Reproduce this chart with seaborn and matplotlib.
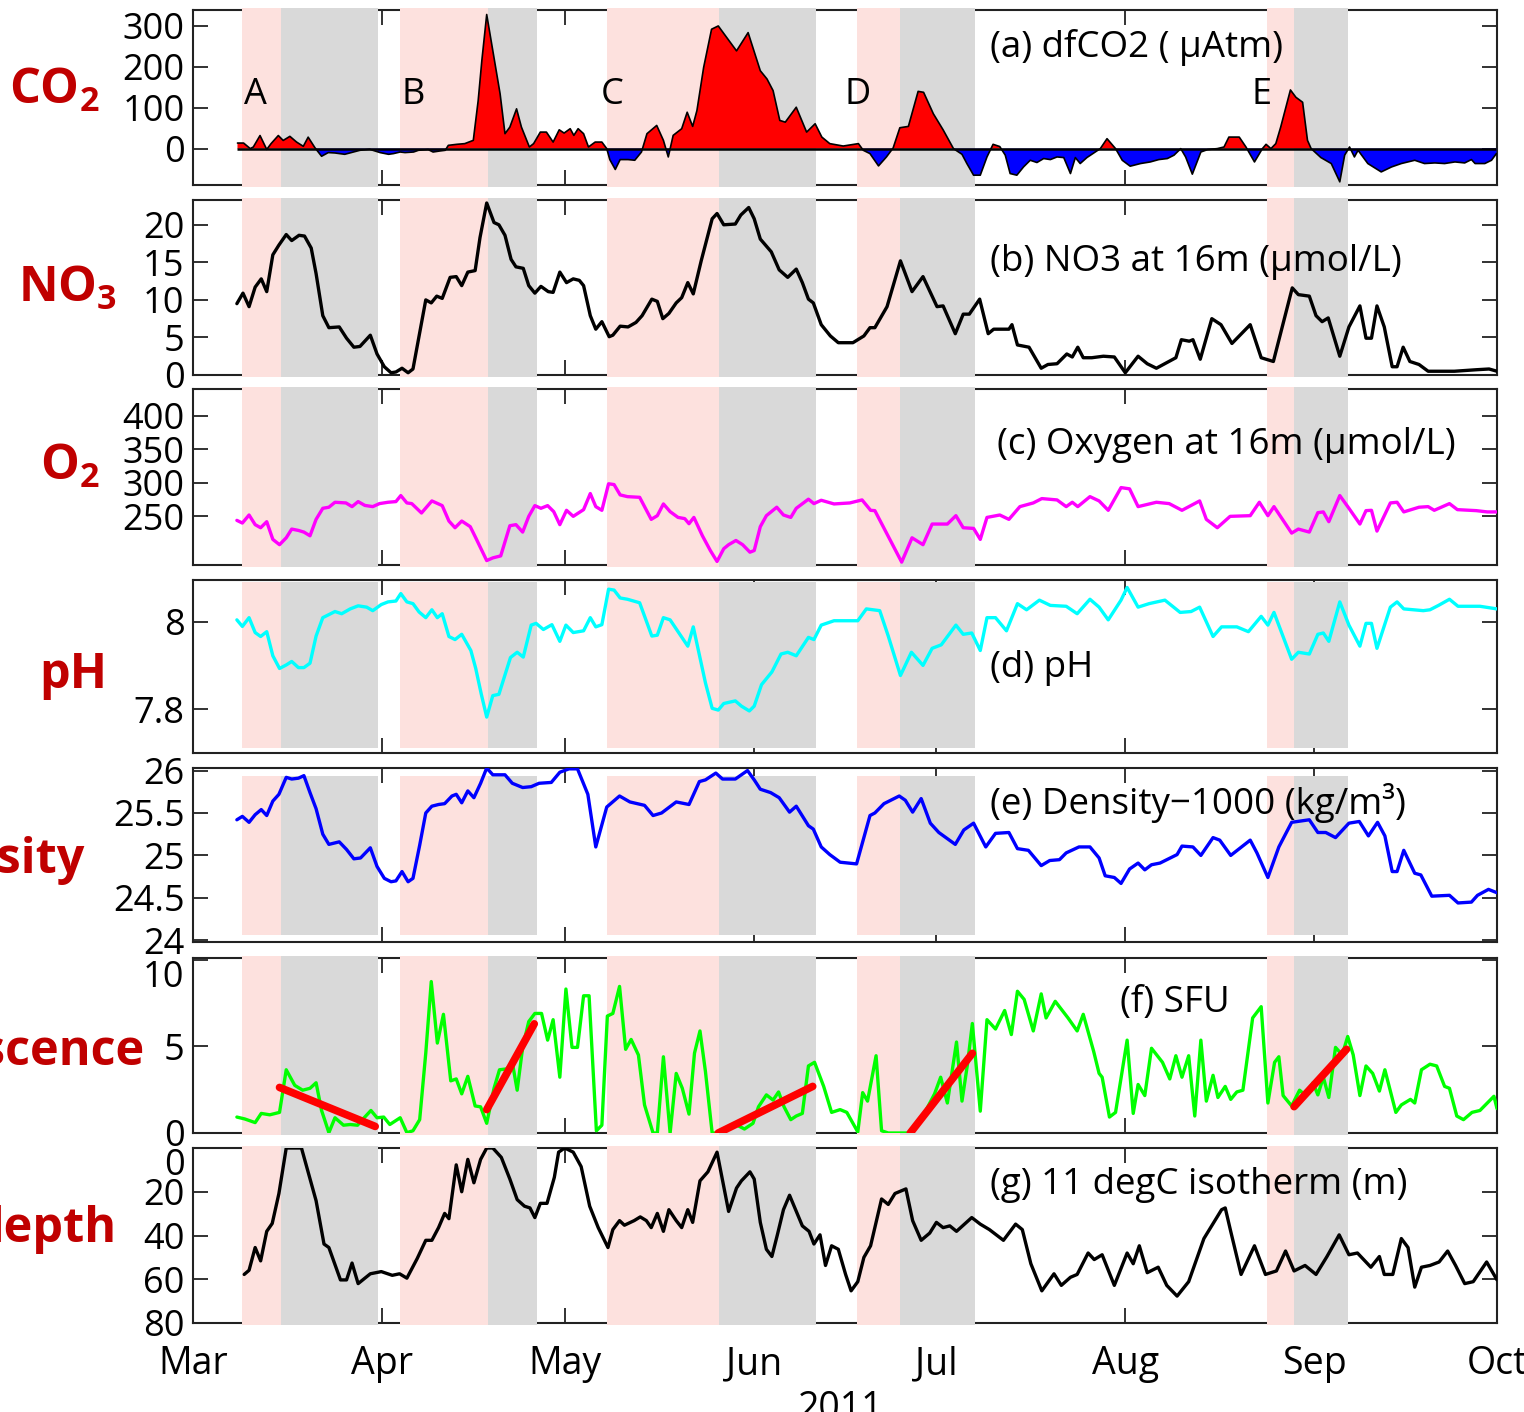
import numpy as np
import matplotlib
matplotlib.use("Agg")
import matplotlib.pyplot as plt
import seaborn as sns

# ---------------- data (days since 1 March 2011) ----------------
month_day = [0, 31, 61, 92, 122, 153, 184, 214]
month_name = ["Mar", "Apr", "May", "Jun", "Jul", "Aug", "Sep", "Oct"]

pink_start = [8.0, 34.0, 68.0, 108.9, 176.2]
gray_start = [14.4, 48.4, 86.3, 116.1, 180.7]
gray_end = [30.4, 56.4, 102.2, 128.3, 189.5]
event_name = ["A", "B", "C", "D", "E"]
event_day = [10.3, 36.1, 68.8, 109.1, 175.3]

co2_day = [7.3, 8.3, 9.4, 9.9, 11.0, 12.1, 12.8, 14.0, 14.8, 15.9,
           17.0, 18.1, 18.9, 20.0, 21.1, 22.2, 23.3, 24.9, 27.4, 29.0,
           30.7, 32.1, 32.9, 34.0, 34.8, 36.2, 37.0, 38.6, 39.4, 40.5,
           41.4, 41.9, 43.3, 44.6, 46.0, 46.8, 47.4, 48.2, 50.4, 51.2,
           52.0, 53.1, 53.9, 55.2, 55.9, 57.0, 58.0, 59.1, 60.1, 60.9,
           61.9, 62.5, 63.2, 64.1, 64.9, 66.0, 67.1, 67.9, 68.4, 69.3,
           70.1, 71.4, 72.5, 73.6, 74.5, 76.1, 77.2, 78.0, 78.8, 80.2,
           81.1, 82.0, 82.7, 83.8, 85.1, 86.2, 89.2, 91.1, 93.1, 94.2,
           95.2, 96.3, 97.2, 99.0, 99.9, 100.7, 102.1, 103.2, 104.5, 106.7,
           109.2, 110.0, 111.1, 112.5, 113.8, 114.9, 116.0, 117.4, 119.0, 119.9,
           121.5, 123.1, 124.8, 126.2, 127.0, 128.1, 129.2, 130.3, 131.3, 132.4,
           133.3, 134.1, 135.2, 136.3, 137.4, 138.5, 139.6, 140.7, 141.8, 142.9,
           144.0, 144.8, 145.6, 146.7, 148.9, 150.0, 151.4, 152.5, 153.8, 155.5,
           157.1, 158.5, 159.9, 161.0, 162.1, 162.9, 164.0, 165.4, 166.5, 168.1,
           169.2, 170.0, 171.7, 172.8, 174.2, 175.5, 176.1, 176.9, 177.7, 178.5,
           180.1, 181.0, 182.1, 182.9, 183.5, 185.1, 186.8, 188.2, 189.0, 189.8,
           190.6, 191.2, 192.8, 195.0, 196.7, 198.3, 200.5, 202.1, 203.8, 205.4,
           207.1, 208.7, 209.8, 210.4, 212.0, 213.1, 213.9]
co2_val = [13.6, 13.6, 0, 4, 32, -2, 12, 32, 20, 30,
           16, 5.6, 28, 2.4, -18.7, -9.7, -10.7, -13.9, -4.1, -1.7,
           -9.7, -13.9, -12.2, -8.3, -9.7, -8.3, -4.1, -2.4, -8.3, -5.8,
           -4.1, 8, 10.5, 12.2, 20.2, 117.5, 215, 328, 134, 36.5,
           52.6, 97.3, 52.6, 4, 12.2, 40.4, 40.4, 16, 46, 38,
           48.7, 32.4, 48.7, 36.5, 4, 16, 16, 0, -26.8, -51,
           -26.8, -26.8, -28.5, -8.3, 36.5, 56.7, 20.2, -20.4, 32.4, 48.7,
           89, 54.3, 93.2, 198.5, 292, 300, 239, 283.7, 190.5, 170.3,
           141.8, 68.9, 64.7, 101.2, 68.9, 40.4, 60.8, 28.2, 12.2, 6.3,
           12.2, -4.1, -12.2, -42.3, -20.4, 1.5, 51, 54.3, 140, 137.7,
           85.2, 46, 0, -13.9, -36.5, -65, -65, -20.4, 10.5, 5,
           -16, -61, -65, -44.8, -28.5, -34, -24.3, -26.8, -20.4, -21.9,
           -61, -21.9, -36.5, -21.9, 0, 24.3, 0, -28.5, -43, -36.5,
           -32.6, -26.8, -24.3, -16, 0, -20.4, -62.5, -8.3, -2.4, 0,
           4, 28.2, 28.2, 4, -32.6, 0, 10.5, 0, 12.2, 52.6,
           143.5, 125.5, 113.4, 20.2, 0, -21.9, -36.5, -81.3, -16, 4,
           -20.4, -4.1, -36.5, -57, -44.8, -36.5, -28.5, -36.5, -35, -36.5,
           -32.6, -35, -26.8, -36.5, -36.5, -28.5, -12.2]

no3_day = [7.2, 8.2, 9.2, 10.2, 11.2, 12.1, 13.1, 14.1, 15.3, 16.2,
           17.4, 18.3, 19.4, 20.2, 21.3, 22.3, 24.0, 25.2, 26.4, 27.4,
           29.1, 30.2, 31.4, 32.5, 33.3, 34.3, 35.3, 36.1, 37.1, 38.2,
           39.1, 40.0, 40.9, 42.2, 43.2, 44.1, 45.1, 46.3, 47.1, 48.2,
           49.4, 50.2, 51.2, 52.2, 53.0, 54.2, 55.1, 56.1, 57.1, 58.3,
           59.1, 60.2, 61.3, 62.4, 63.4, 64.1, 65.2, 66.1, 67.1, 68.3,
           68.9, 70.1, 71.4, 72.7, 73.7, 75.3, 76.2, 77.1, 78.1, 79.3,
           80.2, 81.2, 82.1, 83.4, 85.2, 86.0, 87.1, 89.0, 89.9, 91.2,
           92.1, 93.1, 94.9, 96.2, 97.6, 99.0, 100.0, 101.0, 101.8, 103.1,
           104.6, 105.9, 107.7, 108.3, 110.1, 111.1, 111.9, 113.9, 116.1, 118.0,
           119.8, 122.1, 123.1, 125.1, 126.4, 127.4, 129.1, 130.5, 131.4, 133.9,
           134.4, 135.3, 137.2, 139.2, 140.3, 141.8, 143.4, 144.3, 145.2, 146.1,
           147.5, 149.4, 151.2, 153.0, 155.1, 156.6, 158.1, 161.3, 162.2, 163.5,
           164.1, 165.3, 167.2, 168.7, 170.5, 173.5, 175.3, 177.3, 180.4, 181.4,
           183.2, 184.3, 185.3, 186.3, 188.2, 189.7, 191.5, 192.5, 193.4, 194.3,
           195.5, 196.8, 197.6, 198.6, 199.7, 201.2, 202.7, 207.0, 210.6, 212.7,
           214.0]
no3_val = [9.5, 10.9, 9.1, 11.7, 12.8, 11.1, 16, 17.3, 18.7, 17.9,
           18.6, 18.5, 16.9, 13.5, 7.9, 6.3, 6.4, 4.9, 3.7, 3.8,
           5.3, 2.8, 1.1, 0.3, 0.4, 0.9, 0.3, 0.8, 5.2, 10,
           9.6, 10.5, 10.2, 13, 13.1, 11.9, 13.7, 13.9, 18.3, 22.9,
           20.3, 20, 18.6, 15.4, 14.4, 14.2, 11.9, 10.9, 11.8, 11.1,
           11.0, 13.7, 12.3, 12.8, 12.6, 11.9, 7.9, 6.1, 7.1, 5.1,
           5.3, 6.5, 6.4, 7.0, 7.9, 10.1, 9.8, 7.5, 8.2, 9.6,
           10.3, 12.3, 10.8, 15.2, 20.8, 21.5, 20.0, 20.1, 21.3, 22.3,
           20.8, 18.1, 16.4, 14, 13, 14.1, 12.3, 10.1, 9.6, 6.7,
           5.2, 4.3, 4.3, 4.3, 5.2, 6.3, 6.3, 9.1, 15.2, 11.1,
           13.1, 9.1, 9.2, 5.5, 8.1, 8.1, 10.1, 5.5, 6.1, 6.1,
           6.7, 4.0, 3.7, 0.9, 1.4, 1.5, 2.8, 2.4, 3.7, 2.3,
           2.3, 2.5, 2.4, 0.3, 2.5, 1.5, 0.9, 2.3, 4.7, 4.5,
           4.7, 2.1, 7.5, 6.7, 4.2, 6.7, 2.3, 1.8, 11.6, 10.7,
           10.5, 7.9, 7.1, 7.6, 2.5, 6.4, 9.2, 4.9, 4.9, 9.2,
           6.4, 1.1, 1.1, 3.7, 1.8, 1.4, 0.5, 0.5, 0.7, 0.8,
           0.5]

o2_day = [7.2, 8.1, 9.2, 10.2, 11.1, 12.1, 13.1, 14.2, 15.3, 16.2,
          17.3, 18.2, 19.2, 20.2, 21.3, 22.3, 23.3, 25.1, 26.1, 27.1,
          28.2, 29.5, 30.6, 32.0, 33.3, 34.1, 35.1, 35.9, 37.5, 39.2,
          40.9, 42.0, 43.0, 44.1, 45.5, 46.4, 48.2, 49.2, 50.5, 52.0,
          53.0, 54.1, 55.1, 56.1, 57.1, 58.2, 59.2, 60.2, 61.3, 62.4,
          64.1, 65.2, 66.1, 67.1, 68.2, 69.1, 70.1, 71.3, 73.3, 75.2,
          76.2, 77.2, 78.3, 79.6, 80.7, 81.4, 82.2, 83.6, 84.9, 86.0,
          87.1, 87.9, 89.1, 90.2, 91.4, 92.1, 93.1, 94.1, 95.8, 96.9,
          98.1, 99.0, 101.0, 101.9, 103.1, 105.2, 107.8, 109.8, 111.2, 111.9,
          116.3, 118.0, 119.8, 121.3, 123.8, 125.2, 126.4, 128.1, 129.2, 130.3,
          132.4, 133.9, 135.7, 137.9, 139.3, 141.8, 143.3, 144.3, 145.2, 147.2,
          148.7, 150.2, 152.3, 153.7, 155.1, 158.1, 160.2, 162.3, 165.2, 166.3,
          168.1, 170.2, 173.5, 175.0, 176.4, 177.4, 180.3, 181.4, 183.2, 184.6,
          185.5, 186.4, 188.2, 189.7, 191.5, 192.5, 193.4, 194.3, 196.5, 197.6,
          198.7, 201.2, 202.7, 203.7, 206.2, 207.5, 210.6, 212.4, 214.0]
o2_val = [244, 240, 252, 237.6, 233, 242, 215.6, 207.7, 218, 231,
          229, 226.5, 221, 245.5, 262, 263.6, 271, 270, 264.5, 272,
          266.3, 264.5, 269, 271, 272, 281, 270, 269, 255, 273,
          266, 243, 233, 243, 234.6, 218, 184, 188, 191, 236,
          237.6, 226.5, 250, 266, 262, 266, 257, 237.6, 259, 250,
          260, 284, 264.5, 259, 298.6, 297.4, 282, 279.4, 278.4, 245.5,
          251, 268.5, 257, 248.4, 246.6, 239, 248.4, 221, 199, 182.7,
          201.7, 207.7, 214, 207.7, 196.5, 199, 234.6, 251, 263.6, 252,
          248.4, 262, 275.6, 269, 274, 268.5, 270, 274.5, 259, 258.5,
          181.7, 218, 207.7, 238.5, 238.5, 251, 233, 232, 215.6, 248.4,
          252, 245.5, 264.5, 270, 276.5, 274.5, 264.5, 271, 264.5, 279.4,
          273, 259, 292.9, 291, 264.5, 271, 269, 259, 273, 245.5,
          233, 250, 251, 271, 251, 264.5, 225, 231, 226.5, 255.5,
          256.6, 242, 281, 262, 238.5, 258.5, 259, 228, 270, 271,
          256.6, 263.6, 264.5, 259, 269, 260, 258.5, 256.6, 256.6]

ph_day = [7.2, 8.1, 9.2, 10.2, 11.1, 12.1, 13.1, 14.2, 15.3, 16.2,
          17.3, 18.2, 19.2, 20.2, 21.3, 22.3, 23.3, 24.4, 25.8, 27.1,
          28.5, 29.5, 30.9, 32.0, 33.3, 34.1, 35.1, 36.1, 37.1, 38.2,
          39.2, 40.1, 40.9, 42.0, 43.0, 44.1, 45.6, 46.4, 47.3, 48.2,
          49.2, 50.2, 52.1, 53.2, 54.2, 55.5, 56.3, 57.5, 58.9, 60.2,
          61.2, 62.4, 64.1, 65.2, 66.1, 67.1, 68.2, 69.1, 70.1, 71.3,
          73.3, 75.3, 76.2, 77.2, 78.3, 79.6, 81.2, 82.1, 83.2, 84.1,
          85.2, 86.2, 87.1, 89.0, 90.0, 91.3, 92.1, 93.3, 95.0, 96.5,
          97.6, 99.0, 101.0, 101.9, 103.1, 105.2, 109.1, 110.5, 112.7, 114.1,
          116.1, 117.9, 119.8, 121.3, 122.8, 125.2, 126.4, 127.8, 129.2, 130.3,
          131.7, 133.5, 135.3, 136.8, 138.9, 140.7, 143.3, 145.1, 147.2, 148.7,
          150.2, 152.3, 153.3, 155.1, 156.9, 159.5, 162.0, 163.8, 165.2, 167.4,
          168.8, 171.3, 173.2, 175.3, 176.4, 177.4, 180.3, 181.4, 183.2, 184.6,
          185.5, 186.4, 188.2, 189.7, 191.5, 192.5, 193.4, 194.3, 196.5, 197.6,
          198.7, 201.9, 203.0, 204.4, 206.2, 207.6, 211.2, 214.0]
ph_val = [8.004, 7.989, 8.009, 7.975, 7.966, 7.977, 7.922, 7.893, 7.901, 7.909,
          7.895, 7.895, 7.905, 7.967, 8.009, 8.016, 8.023, 8.018, 8.029, 8.036,
          8.033, 8.025, 8.039, 8.045, 8.047, 8.064, 8.045, 8.041, 8.022, 8.009,
          8.027, 8.009, 8.018, 7.966, 7.959, 7.971, 7.934, 7.893, 7.835, 7.782,
          7.831, 7.834, 7.918, 7.930, 7.919, 7.992, 7.996, 7.982, 7.993, 7.955,
          7.992, 7.975, 7.979, 8.009, 7.988, 7.993, 8.074, 8.072, 8.054, 8.051,
          8.043, 7.967, 7.969, 8.009, 8.004, 7.977, 7.944, 7.988, 7.918, 7.860,
          7.802, 7.798, 7.813, 7.819, 7.807, 7.796, 7.807, 7.856, 7.885, 7.926,
          7.930, 7.922, 7.964, 7.959, 7.992, 8.002, 8.002, 8.029, 8.025, 7.967,
          7.877, 7.930, 7.900, 7.939, 7.947, 7.992, 7.971, 7.974, 7.934, 8.009,
          8.009, 7.979, 8.041, 8.027, 8.049, 8.037, 8.035, 8.018, 8.051, 8.033,
          8.004, 8.049, 8.078, 8.033, 8.041, 8.049, 8.021, 8.023, 8.033, 7.966,
          7.988, 7.988, 7.977, 8.012, 7.992, 8.021, 7.914, 7.930, 7.926, 7.971,
          7.974, 7.955, 8.045, 7.992, 7.944, 7.996, 7.996, 7.939, 8.033, 8.045,
          8.029, 8.025, 8.027, 8.037, 8.051, 8.035, 8.035, 8.029]

dens_day = [7.2, 8.1, 9.2, 10.2, 11.2, 12.1, 13.1, 14.1, 15.3, 16.2,
            17.3, 18.2, 19.2, 20.2, 21.3, 22.3, 24.0, 25.2, 26.4, 27.5,
            29.1, 30.2, 31.4, 32.5, 33.3, 34.3, 35.3, 36.1, 37.2, 38.2,
            39.2, 40.3, 41.3, 42.5, 43.2, 44.1, 45.1, 46.1, 47.2, 48.2,
            49.2, 51.2, 52.4, 54.1, 55.5, 56.8, 58.8, 60.2, 61.7, 63.1,
            64.8, 66.1, 67.9, 70.0, 71.7, 74.1, 75.5, 76.9, 79.3, 81.4,
            83.1, 84.1, 85.8, 86.9, 89.0, 91.0, 92.1, 93.1, 94.8, 96.2,
            97.9, 99.0, 101.0, 101.8, 103.1, 104.5, 106.2, 108.9, 111.1, 111.9,
            113.4, 115.9, 116.9, 118.1, 119.5, 121.0, 122.4, 125.1, 126.5, 128.1,
            130.1, 131.7, 133.9, 135.3, 137.1, 139.2, 140.6, 142.2, 143.3, 145.4,
            147.2, 148.7, 149.7, 151.2, 152.3, 153.7, 155.1, 156.2, 157.3, 158.7,
            161.5, 162.3, 164.1, 165.4, 167.4, 168.5, 170.3, 173.5, 174.6, 176.4,
            178.2, 180.3, 183.2, 184.6, 185.9, 187.5, 189.7, 191.4, 192.9, 194.4,
            195.6, 196.8, 197.6, 198.7, 200.5, 201.5, 203.3, 206.2, 207.6, 209.8,
            210.8, 212.6, 214.0]
dens_val = [25.42, 25.46, 25.39, 25.48, 25.54, 25.47, 25.64, 25.72, 25.92, 25.90,
            25.91, 25.94, 25.74, 25.55, 25.25, 25.13, 25.16, 25.07, 24.96, 24.97,
            25.09, 24.87, 24.73, 24.69, 24.70, 24.81, 24.69, 24.73, 25.12, 25.50,
            25.58, 25.60, 25.61, 25.70, 25.72, 25.62, 25.76, 25.68, 25.85, 26.03,
            25.95, 25.95, 25.85, 25.80, 25.81, 25.85, 25.86, 25.98, 26.02, 26.02,
            25.72, 25.10, 25.57, 25.70, 25.63, 25.59, 25.47, 25.50, 25.63, 25.60,
            25.87, 25.89, 25.97, 25.90, 25.90, 26.00, 25.89, 25.78, 25.74, 25.68,
            25.51, 25.58, 25.35, 25.31, 25.10, 25.01, 24.92, 24.90, 25.47, 25.50,
            25.61, 25.70, 25.65, 25.51, 25.67, 25.38, 25.27, 25.13, 25.30, 25.38,
            25.10, 25.26, 25.27, 25.08, 25.06, 24.88, 24.94, 24.95, 25.03, 25.10,
            25.10, 24.97, 24.76, 24.74, 24.67, 24.84, 24.91, 24.83, 24.89, 24.91,
            25.01, 25.11, 25.10, 25.00, 25.21, 25.18, 25.00, 25.18, 25.03, 24.74,
            25.10, 25.39, 25.42, 25.27, 25.27, 25.21, 25.38, 25.40, 25.23, 25.39,
            25.23, 24.81, 24.81, 25.06, 24.79, 24.77, 24.52, 24.53, 24.44, 24.45,
            24.53, 24.60, 24.56]

sfu_day = [7.2, 8.5, 10.2, 11.2, 12.6, 14.2, 15.3, 16.7, 18.0, 19.2,
           20.2, 21.1, 22.3, 23.3, 24.7, 25.8, 27.0, 27.8, 29.2, 30.2,
           31.3, 32.3, 34.0, 35.1, 36.1, 37.2, 38.2, 39.1, 40.1, 41.1,
           42.3, 43.2, 44.1, 45.1, 46.3, 47.2, 48.2, 49.4, 50.3, 51.5,
           52.4, 53.2, 54.1, 55.1, 56.1, 57.2, 58.2, 59.1, 60.2, 61.2,
           62.2, 63.1, 64.1, 65.0, 66.2, 67.1, 68.0, 68.9, 70.0, 71.0,
           71.9, 73.1, 74.1, 75.5, 76.2, 77.2, 78.3, 79.3, 80.3, 81.4,
           82.3, 83.2, 84.1, 85.2, 86.2, 87.6, 89.3, 90.5, 91.9, 92.8,
           94.1, 95.2, 96.1, 97.0, 98.1, 99.0, 100.0, 101.0, 102.0, 103.5,
           104.8, 106.2, 107.3, 109.1, 109.9, 110.7, 112.1, 113.0, 114.1, 116.3,
           117.7, 119.5, 121.7, 122.7, 123.8, 125.3, 126.2, 127.1, 127.9, 129.2,
           130.3, 131.7, 133.2, 134.3, 135.3, 136.4, 137.9, 139.2, 140.0, 141.5,
           143.6, 145.1, 146.1, 147.8, 148.7, 149.2, 150.4, 151.4, 153.3, 154.3,
           155.1, 156.2, 157.3, 159.1, 160.3, 161.3, 162.3, 163.4, 164.4, 165.4,
           166.3, 167.4, 168.2, 169.4, 170.3, 171.3, 172.3, 173.9, 175.3, 176.4,
           177.5, 178.2, 178.9, 180.3, 181.6, 182.6, 183.8, 184.6, 185.5, 186.4,
           187.5, 188.6, 189.5, 190.4, 191.5, 192.5, 193.6, 194.7, 195.6, 197.4,
           198.3, 199.8, 200.5, 201.6, 203.0, 204.1, 205.4, 206.2, 207.4, 208.5,
           209.9, 211.2, 213.5, 214.0]
sfu_val = [0.92, 0.81, 0.6, 1.13, 1.05, 1.19, 3.65, 2.75, 2.47, 2.58,
           2.9, 1.3, 0.02, 0.88, 0.45, 0.49, 0.45, 0.77, 1.3, 0.88,
           0.92, 0.49, 0.88, 0.02, 0.13, 0.77, 4.61, 8.74, 5.19, 6.85,
           3.01, 3.12, 2.26, 3.27, 1.56, 1.51, 0.56, 2.58, 3.65, 3.7,
           4.08, 2.47, 4.94, 6.43, 6.9, 6.9, 5.36, 6.54, 3.22, 8.31,
           4.94, 4.94, 7.92, 7.92, 0.13, 0.45, 6.75, 6.9, 8.46, 4.83,
           5.4, 4.5, 1.62, 0, 0, 4.4, 0, 3.44, 2.58, 1.09,
           4.61, 5.89, 3.54, 0, 0, 0.23, 0.45, 0.23, 0.56, 1.51,
           2.2, 1.9, 2.37, 1.51, 0.77, 0.98, 1.13, 3.87, 4.08, 2.69,
           1.19, 1.35, 1.19, 0.06, 2.33, 1.84, 4.46, 0.13, 0, 0,
           0, 0.77, 2.26, 3.22, 1.73, 5.25, 1.84, 3.97, 6.32, 1.26,
           6.54, 6.0, 7.07, 5.68, 8.18, 7.71, 5.89, 8.03, 6.64, 7.6,
           6.64, 5.89, 6.85, 4.72, 3.44, 3.22, 0.92, 1.19, 5.36, 1.13,
           2.8, 2.16, 4.89, 4.08, 3.12, 4.46, 3.22, 4.46, 0.98, 5.36,
           1.84, 3.33, 2.05, 2.69, 1.94, 2.37, 2.47, 6.64, 7.29, 1.73,
           4.08, 4.4, 2.16, 1.56, 2.47, 2.16, 2.9, 2.2, 3.22, 2.05,
           4.94, 4.51, 5.57, 4.51, 2.16, 3.87, 3.44, 2.42, 3.65, 1.19,
           1.62, 1.94, 1.73, 3.65, 3.97, 3.87, 2.69, 2.58, 0.98, 0.77,
           1.19, 1.3, 2.12, 1.41]

trend_day0 = [14.2, 48.2, 86.2, 117.7, 180.7]
trend_day1 = [29.9, 56.0, 101.7, 127.9, 189.3]
trend_val0 = [2.63, 1.35, 0.0, 0.0, 1.52]
trend_val1 = [0.38, 6.3, 2.69, 4.6, 4.83]

iso_day = [8.4, 9.2, 10.2, 11.1, 12.1, 13.0, 14.1, 15.3, 17.8, 20.2,
           21.5, 22.3, 24.2, 25.2, 26.1, 27.1, 29.1, 30.9, 32.7, 33.9,
           35.1, 36.8, 38.2, 39.2, 40.3, 41.3, 42.0, 43.2, 44.1, 45.1,
           46.1, 47.2, 48.2, 49.2, 50.6, 52.0, 53.2, 54.4, 55.3, 56.1,
           57.0, 58.1, 59.3, 60.0, 61.0, 62.4, 63.7, 65.1, 66.5, 68.1,
           68.9, 70.0, 70.8, 72.4, 73.4, 74.4, 75.2, 76.2, 77.2, 78.1,
           79.3, 80.2, 81.2, 82.0, 83.2, 84.5, 86.0, 87.1, 87.9, 89.2,
           90.0, 91.4, 92.1, 93.1, 94.1, 95.0, 95.9, 96.9, 97.9, 99.0,
           100.0, 101.1, 101.9, 102.9, 103.8, 104.8, 105.9, 107.1, 108.0, 109.1,
           110.1, 111.2, 113.0, 114.1, 115.2, 117.0, 118.1, 119.5, 120.9, 122.0,
           123.1, 124.2, 125.3, 127.8, 129.2, 130.7, 133.0, 135.0, 136.1, 137.5,
           139.3, 141.3, 142.5, 144.0, 145.1, 146.9, 147.9, 149.2, 151.2, 153.3,
           154.3, 155.3, 156.6, 158.4, 159.8, 161.5, 163.4, 165.9, 168.8, 169.4,
           170.3, 172.0, 174.2, 176.0, 177.8, 179.3, 180.7, 182.5, 184.3, 186.1,
           188.1, 189.7, 191.1, 193.3, 194.7, 195.5, 196.9, 198.3, 199.4, 200.5,
           201.6, 203.0, 204.5, 205.9, 207.2, 208.7, 210.1, 212.3, 214.0]
iso_val = [57.8, 55.9, 45.5, 51.6, 38.1, 34.5, 20.8, 0, 0, 24.1,
           43.9, 45.5, 60.3, 60.3, 52.6, 62, 57.5, 56.5, 58.2, 57.5,
           59.5, 50.5, 42.2, 42.2, 36.4, 29.9, 32.3, 7.7, 20, 5.2,
           15.9, 5.2, 0, 0, 4.3, 14.2, 23.6, 26.6, 27.4, 31.8,
           25.3, 25.3, 13.4, 1.9, 0, 1.9, 8.5, 26.6, 36.4, 45.5,
           37.3, 33.2, 35.3, 33.2, 31.5, 33.2, 36.4, 29.9, 38.1, 28.2,
           33.2, 36.4, 28.2, 34, 15, 10.9, 1.9, 17.5, 29, 18.3,
           15, 10.9, 14.2, 34, 46.3, 49.6, 39.7, 28.2, 21.6, 29,
           35.6, 38.1, 43.9, 39.7, 53.7, 44.7, 46.3, 57.8, 65.3, 61.1,
           50, 44.7, 23.3, 25.8, 20.8, 18.7, 33.2, 42.2, 38.9, 34,
           36.4, 35.6, 38.1, 31.8, 34.8, 37.3, 42.2, 34.8, 37.3, 52.9,
           65.3, 57.5, 62.8, 59.1, 57.8, 48, 51, 48.8, 62.8, 48,
           52.9, 44.7, 57, 54.5, 62.8, 67.7, 61.1, 41.4, 28.2, 27.4,
           38.1, 57.8, 44.7, 57.8, 56.2, 47.1, 56.2, 53.7, 57.8, 49.6,
           39.7, 48.8, 48, 54.5, 49.6, 57.8, 57.8, 41.4, 45.5, 63.6,
           54.5, 53.7, 52.1, 47.1, 53.7, 62, 61.1, 52.1, 60.3]

panel_text = ["(a) dfCO2 ( \u00b5Atm)", "(b) NO3 at 16m (\u00b5mol/L)",
              "(c) Oxygen at 16m (\u00b5mol/L)", "(d) pH",
              "(e) Density\u22121000 (kg/m\u00b3)", "(f) SFU",
              "(g) 11 degC isotherm (m)"]
side_text = [r"$\mathbf{CO_2}$", r"$\mathbf{NO_3}$", r"$\mathbf{O_2}$", "pH",
             "Density", "Fluorescence", "depth"]
year_text = "2011"

# ---------------- style ----------------
sns.set_theme(style="ticks")
plt.rcParams["font.family"] = ["Open Sans", "DejaVu Sans"]
plt.rcParams["text.color"] = "black"
plt.rcParams["mathtext.fontset"] = "custom"
plt.rcParams["mathtext.rm"] = "Open Sans"
plt.rcParams["mathtext.bf"] = "Open Sans:bold"

PINK = "#fde1de"
GRAY = "#d9d9d9"
DARKRED = "#c00000"

W, H = 1524, 1412
fig = plt.figure(figsize=(W / 100, H / 100), dpi=100)
fig.patch.set_facecolor("white")

panel_px = [(10, 185), (200, 375), (389, 565), (580, 753), (768, 942), (958, 1133), (1148, 1323)]
x0_px, x1_px = 193, 1497
axes = []
for top, bot in panel_px:
    ax = fig.add_axes([x0_px / W, 1 - bot / H, (x1_px - x0_px) / W, (bot - top) / H])
    ax.set_facecolor("white")
    axes.append(ax)

shade_rng = [(-0.012, 1.012, False), (-0.012, 1.012, False), (-0.012, 1.012, False),
             (0.031, 0.99, True), (0.041, 0.952, True), (-0.012, 1.012, False),
             (-0.012, 1.012, False)]
for ax, (lo, hi, clip) in zip(axes, shade_rng):
    for p0, g0, g1 in zip(pink_start, gray_start, gray_end):
        ax.axvspan(p0, g0, ymin=lo, ymax=hi, color=PINK, lw=0, zorder=2.6, clip_on=clip)
        ax.axvspan(g0, g1, ymin=lo, ymax=hi, color=GRAY, lw=0, zorder=2.6, clip_on=clip)

# (a) CO2 filled anomaly
ax = axes[0]
d = np.array(co2_day)
v = np.array(co2_val)
ax.fill_between(d, v, 0, where=v >= 0, interpolate=True, color="#ff0000", lw=0, zorder=3)
ax.fill_between(d, v, 0, where=v <= 0, interpolate=True, color="#0000ff", lw=0, zorder=3)
sns.lineplot(x=d, y=v, ax=ax, color="black", lw=1.2, estimator=None, sort=False, zorder=4)
ax.hlines(0, d[0], d[-1], color="black", lw=1.8, zorder=4)
for name, day in zip(event_name, event_day):
    ax.text(day, 130, name, ha="center", va="center", fontsize=26, color="black", zorder=5)

line_specs = [(axes[1], no3_day, no3_val, "black"),
              (axes[2], o2_day, o2_val, "#ff00ff"),
              (axes[3], ph_day, ph_val, "#00ffff"),
              (axes[4], dens_day, dens_val, "#0000ff"),
              (axes[5], sfu_day, sfu_val, "#00ff00"),
              (axes[6], iso_day, iso_val, "black")]
for ax, xd, yd, col in line_specs:
    sns.lineplot(x=np.array(xd), y=np.array(yd), ax=ax, color=col, lw=2.4,
                 estimator=None, sort=False, zorder=4)

for a0, a1, b0, b1 in zip(trend_day0, trend_day1, trend_val0, trend_val1):
    sns.lineplot(x=[a0, a1], y=[b0, b1], ax=axes[5], color="#ff0000", lw=5.5,
                 estimator=None, sort=False, zorder=5)

ylims = [(-89, 339), (0, 23.3), (177.4, 440), (7.70, 8.095), (23.98, 26.03), (0, 10.1), (80, 0)]
yticks = [[0, 100, 200, 300], [0, 5, 10, 15, 20], [250, 300, 350, 400], [7.8, 8.0],
          [24, 24.5, 25, 25.5, 26], [0, 5, 10], [0, 20, 40, 60, 80]]
ylabs = [["0", "100", "200", "300"], ["0", "5", "10", "15", "20"], ["250", "300", "350", "400"],
         ["7.8", "8"], ["24", "24.5", "25", "25.5", "26"], ["0", "5", "10"],
         ["0", "20", "40", "60", "80"]]
ann_pos = [(0.611, 0.783), (0.611, 0.646), (0.6166, 0.682), (0.611, 0.491),
           (0.611, 0.80), (0.711, 0.743), (0.611, 0.789)]

for i, ax in enumerate(axes):
    ax.set_xlim(0, 214)
    ax.set_ylim(*ylims[i])
    ax.set_yticks(yticks[i])
    ax.set_yticklabels(ylabs[i])
    ax.set_xticks(month_day)
    ax.set_xticklabels(month_name)
    ax.set_xlabel("")
    ax.set_ylabel("")
    ax.tick_params(axis="both", direction="in", length=10.5, width=1.3,
                   top=True, right=True, color="#222222", labelcolor="black")
    ax.tick_params(axis="y", labelsize=26, pad=6)
    ax.tick_params(axis="x", labelsize=27, pad=16, labelbottom=(i == len(axes) - 1))
    for s in ax.spines.values():
        s.set_linewidth(1.5)
        s.set_color("#222222")
    ax.text(ann_pos[i][0], ann_pos[i][1], panel_text[i], transform=ax.transAxes,
            ha="left", va="center", fontsize=26.5, color="black", zorder=6)

# edge tick labels nudged inside their panel, as in the reference
labs_f = axes[5].get_yticklabels()
labs_f[-1].set_verticalalignment("top")
labs_f[0].set_verticalalignment("center_baseline")
labs_g = axes[6].get_yticklabels()
labs_g[0].set_verticalalignment("top")

side_right_px = [100, 117, 100, 107, 85, 145, 117]
side_base_px = [104, 302, 480, 688, 873, 1065, 1242]
for txt, rx, by in zip(side_text, side_right_px, side_base_px):
    fig.text(rx / W, 1 - by / H, txt, ha="right", va="baseline", color=DARKRED,
             fontsize=35, fontweight="bold", family="Open Sans")

fig.text(840 / W, 1 - 1390 / H, year_text, ha="center", va="top", fontsize=27, color="black")

fig.savefig("out.png", dpi=100, facecolor="white")
